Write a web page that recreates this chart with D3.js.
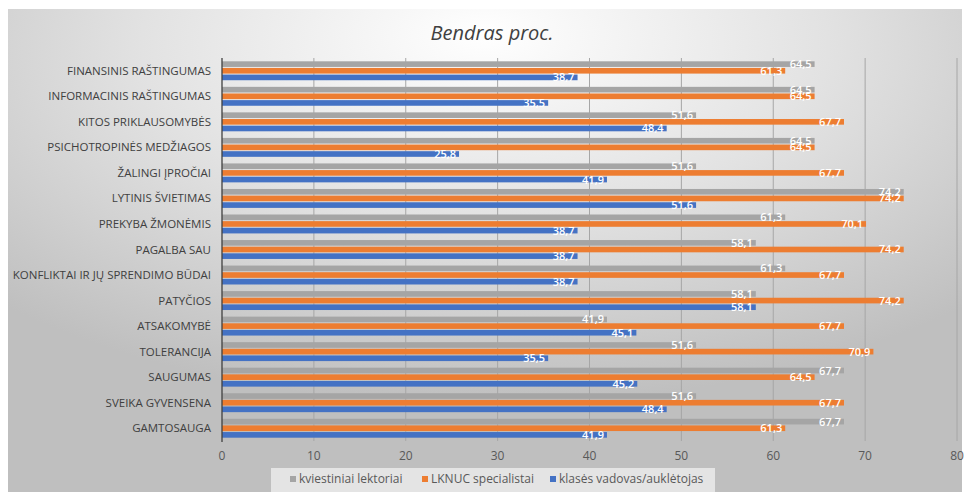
<!DOCTYPE html>
<html>
<head>
<meta charset="utf-8">
<script src="https://cdn.jsdelivr.net/npm/d3@7"></script>
<style>
  body { margin:0; background:#fff; }
  svg { display:block; font-family:"Open Sans", sans-serif; }
</style>
</head>
<body>
<div id="chart"></div>
<script>
// categories top -> bottom
var categories = ["FINANSINIS RAŠTINGUMAS","INFORMACINIS RAŠTINGUMAS","KITOS PRIKLAUSOMYBĖS",
  "PSICHOTROPINĖS MEDŽIAGOS","ŽALINGI ĮPROČIAI","LYTINIS ŠVIETIMAS","PREKYBA ŽMONĖMIS",
  "PAGALBA SAU","KONFLIKTAI IR JŲ SPRENDIMO BŪDAI","PATYČIOS","ATSAKOMYBĖ","TOLERANCIJA",
  "SAUGUMAS","SVEIKA GYVENSENA","GAMTOSAUGA"];
var lektoriai = [64.5,64.5,51.6,64.5,51.6,74.2,61.3,58.1,61.3,58.1,41.9,51.6,67.7,51.6,67.7];
var lknuc     = [61.3,64.5,67.7,64.5,67.7,74.2,70.1,74.2,67.7,74.2,67.7,70.9,64.5,67.7,61.3];
var vadovas   = [38.7,35.5,48.4,25.8,41.9,51.6,38.7,38.7,38.7,58.1,45.1,35.5,45.2,48.4,41.9];
var seriesNames = ["kviestiniai lektoriai","LKNUC specialistai","klasės vadovas/auklėtojas"];
var seriesColors = ["#a5a5a5","#ed7d31","#4472c4"];
var xTicks = [0,10,20,30,40,50,60,70,80];
var title = "Bendras proc.";

var W = 964, H = 492;
var svg = d3.select("#chart").append("svg").attr("width", W).attr("height", H);

var defs = svg.append("defs");
var grad = defs.append("radialGradient").attr("id","bg")
  .attr("cx","50%").attr("cy","10%").attr("r","72%").attr("fx","50%").attr("fy","5%");
grad.append("stop").attr("offset","0%").attr("stop-color","#ffffff");
grad.append("stop").attr("offset","50%").attr("stop-color","#e2e2e2");
grad.append("stop").attr("offset","100%").attr("stop-color","#bfbfbf");

svg.append("rect").attr("x",8).attr("y",9).attr("width",W-10).attr("height",H-9)
  .attr("fill","url(#bg)");

svg.append("text").attr("x",492).attr("y",40).attr("text-anchor","middle")
  .attr("font-size",20).attr("font-style","italic").attr("fill","#404040").text(title);

var x = d3.scaleLinear().domain([0,80]).range([222,957]);
var y = d3.scaleBand().domain(categories).range([58,441]).paddingInner(0.22).paddingOuter(0.11);
var ySub = d3.scaleBand().domain(d3.range(3)).range([0,y.bandwidth()]);

// gridlines
svg.append("g").selectAll("line").data(xTicks.slice(1)).join("line")
  .attr("x1",d=>x(d)).attr("x2",d=>x(d)).attr("y1",58).attr("y2",441)
  .attr("stroke","#a6a6a6").attr("stroke-width",1);

var table = categories.map(function(c,i){ return {cat:c, vals:[lektoriai[i],lknuc[i],vadovas[i]]}; });
var fmt = function(v){ return d3.format(".1f")(v).replace(".",","); };

var groups = svg.append("g").selectAll("g").data(table).join("g")
  .attr("transform",d=>"translate(0,"+y(d.cat)+")");

groups.selectAll("rect").data(d=>d.vals).join("rect")
  .attr("x",x(0)).attr("y",(d,i)=>ySub(i)+0.5)
  .attr("width",d=>x(d)-x(0)).attr("height",ySub.bandwidth()-1)
  .attr("fill",(d,i)=>seriesColors[i]);

groups.selectAll("text").data(d=>d.vals).join("text")
  .attr("x",d=>x(d)-3).attr("y",(d,i)=>ySub(i)+ySub.bandwidth()/2+4)
  .attr("text-anchor","end").attr("font-size",11).attr("font-weight",600)
  .attr("fill","#ffffff").text(fmt);

// category axis
svg.append("g").selectAll("text").data(categories).join("text")
  .attr("x",211).attr("y",d=>y(d)+y.bandwidth()/2+4)
  .attr("text-anchor","end").attr("font-size",11.5).attr("fill","#404040").text(d=>d);

svg.append("line").attr("x1",x(0)).attr("x2",x(0)).attr("y1",58).attr("y2",442)
  .attr("stroke","#404040").attr("stroke-width",1.3);

// value axis labels
svg.append("g").selectAll("text").data(xTicks).join("text")
  .attr("x",d=>x(d)).attr("y",460).attr("text-anchor","middle")
  .attr("font-size",12).attr("fill","#595959").text(d=>d);

// legend
var lg = svg.append("g");
lg.append("rect").attr("x",271).attr("y",468).attr("width",444).attr("height",24).attr("fill","#e4e4e4");
var legX = [290,422,550];
seriesNames.forEach(function(s,i){
  lg.append("rect").attr("x",legX[i]).attr("y",476).attr("width",6).attr("height",6).attr("fill",seriesColors[i]);
  lg.append("text").attr("x",legX[i]+9).attr("y",483).attr("font-size",12).attr("fill","#595959").text(s);
});
</script>
</body>
</html>
